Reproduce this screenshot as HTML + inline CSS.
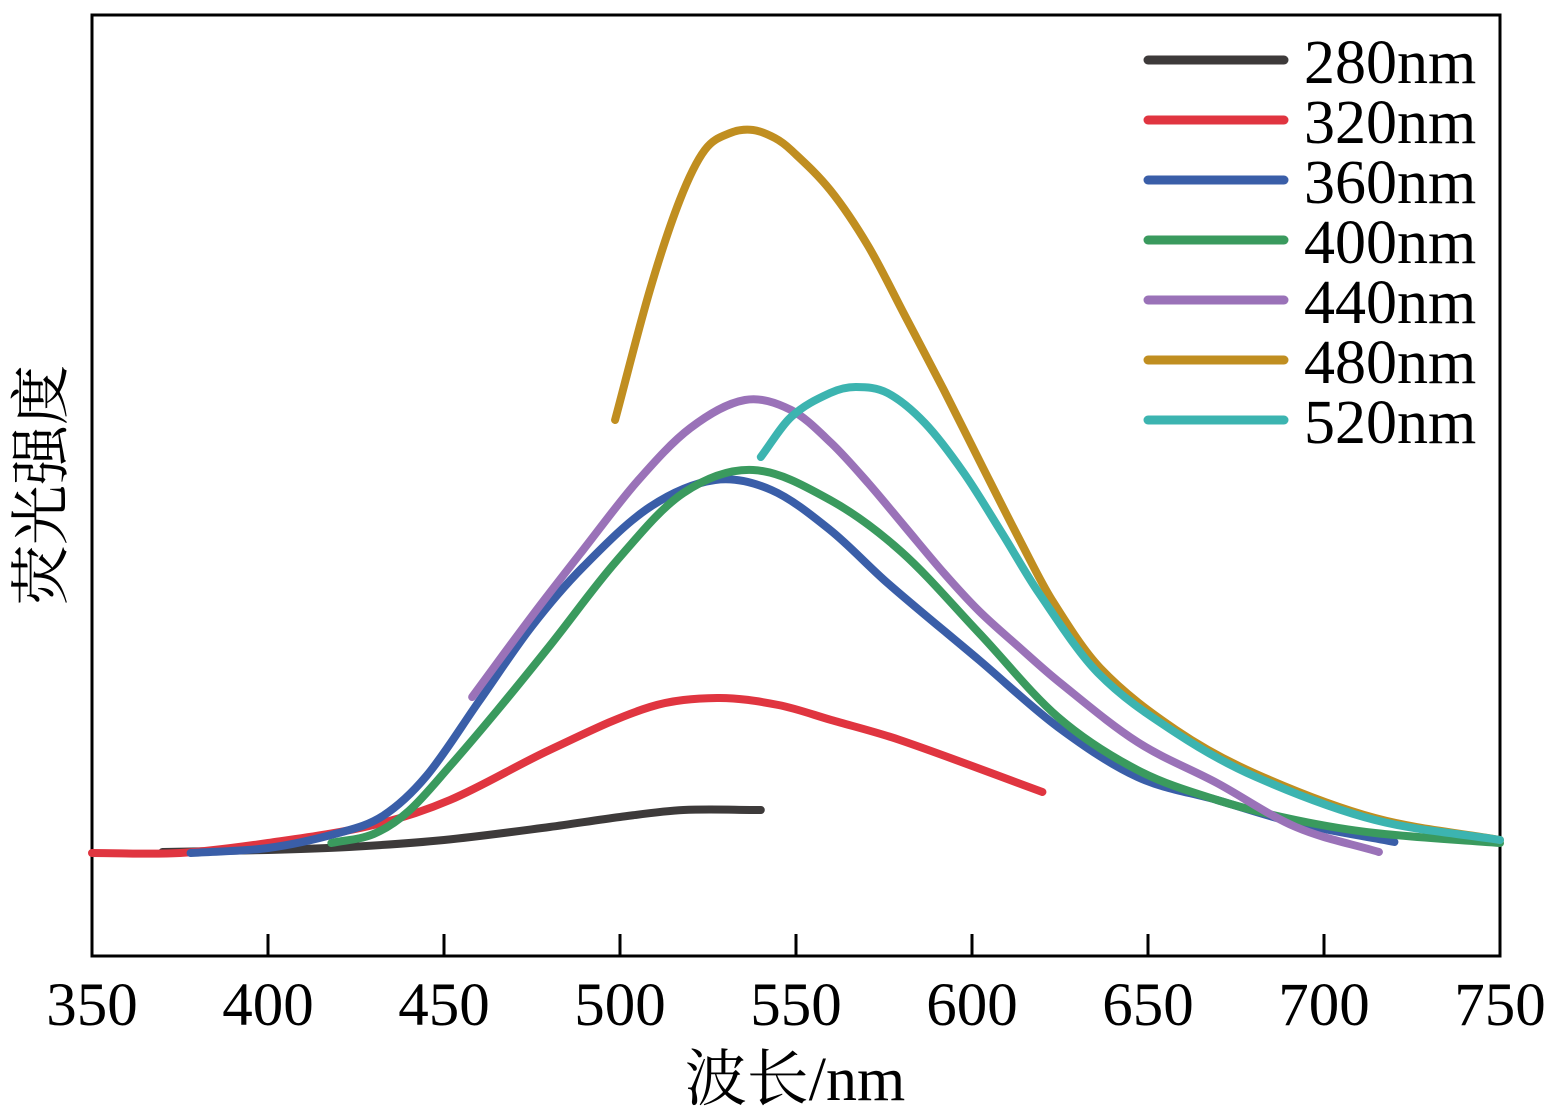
<!DOCTYPE html>
<html><head><meta charset="utf-8"><style>
body{margin:0;background:#fff;}
svg{display:block;font-family:"Liberation Serif","Noto Serif CJK SC",serif;}
</style></head><body>
<svg id="chart" width="1562" height="1115">
<rect x="92" y="15" width="1408" height="941" fill="none" stroke="#000" stroke-width="3"/>
<g id="ticks"></g><g id="series"></g><g id="legend"></g>
<text x="795" y="1100" font-size="62" text-anchor="middle">波长/nm</text>
<text transform="translate(62,485) rotate(-90)" font-size="60" text-anchor="middle" font-family="'Noto Serif CJK SC',serif">荧光强度</text>
</svg>
<script>
const xTicks=[350,400,450,500,550,600,650,700,750];
const seriesNames=["280nm","320nm","360nm","400nm","440nm","480nm","520nm"];
const seriesColors=["#3d3a3a","#e03540","#3a5ea8","#3a9a5e","#9a72b8","#c08e20","#3cb4b0"];
const wl280=[370,400,423,450,480,500,518,540];
const in280=[104,106,109,116,129,139,146,146];
const wl320=[350,375,400,430,451.7,480,508.5,527.6,545,560,579.5,620];
const in320=[103,103,113,131,156,206,249,258,251,236,216,164];
const wl360=[378,400,420,432.6,445,460,475,489.5,508.5,527,543,559.7,576,602,624.4,647,669.6,692,720];
const in360=[103,108,123,140,180,255,330,389,449,476,466,426,373,296,229,179,156,133,114];
const wl400=[418,430,440,451.7,465,480,499,518,537.8,559.7,580,602,624.4,647,669.6,692,714.5,750];
const in400=[113,122,145,190,245,310,395,463,486,456,404,323,239,186,156,136,123,113];
const wl440=[458,475,489.5,505,520,535.5,548.6,560,570.5,581,592,602,613,624.4,647,669.6,692,715.6];
const in440=[259,340,406,475,528,556,546,513,473,429,383,345,310,275,214,173,129,104];
const wl480=[498.6,508.5,517,524.1,531.3,537.8,544,548.6,559.7,570.5,581,592,603,614,622.7,636.4,658,680.7,714.5,750];
const in480=[536,666,756,806,823,826,818,806,766,710,640,566,489,413,356,288,226,182,138,116];
const wl520=[540,548.6,559.7,567,576,586.6,597.7,608.5,619,635.8,658,680.7,714.5,750];
const in520=[499,539,563,569,563,533,483,423,363,283,223,179,136,116];
const allWl=[wl280,wl320,wl360,wl400,wl440,wl480,wl520];
const allIn=[in280,in320,in360,in400,in440,in480,in520];
const NS="http://www.w3.org/2000/svg";
const X0=92,X1=1500,Y0=956,Y1=15;
const xs=v=>X0+(v-350)/(750-350)*(X1-X0);
const ys=v=>Y0-(v/941)*(Y0-Y1);
const tg=document.getElementById('ticks');
xTicks.forEach(t=>{
 const l=document.createElementNS(NS,'line');
 l.setAttribute('x1',xs(t));l.setAttribute('x2',xs(t));l.setAttribute('y1',Y0);l.setAttribute('y2',Y0-22);
 l.setAttribute('stroke','#000');l.setAttribute('stroke-width','3');
 
 
 tg.appendChild(l);
 const tx=document.createElementNS(NS,'text');
 tx.setAttribute('x',xs(t));tx.setAttribute('y',1025);tx.setAttribute('font-size','61');tx.setAttribute('text-anchor','middle');
 tx.textContent=t;
 
 
 tg.appendChild(tx);
});
function smooth(p){
 const n=p.length,m=[];
 for(let i=0;i<n;i++){
  const a=p[Math.max(0,i-1)],c=p[Math.min(n-1,i+1)];
  m.push((c[1]-a[1])/(c[0]-a[0]));
 }
 let d='M'+p[0][0]+','+p[0][1];
 for(let i=0;i<n-1;i++){
  const b=p[i],c=p[i+1],dx=(c[0]-b[0])/3;
  d+=' C'+(b[0]+dx)+','+(b[1]+m[i]*dx)+' '+(c[0]-dx)+','+(c[1]-m[i+1]*dx)+' '+c[0]+','+c[1];
 }
 return d;
}
const sg=document.getElementById('series');
allWl.forEach((wl,k)=>{
 const pts=wl.map((w,i)=>[xs(w),ys(allIn[k][i])]);
 const p=document.createElementNS(NS,'path');
 p.setAttribute('d',smooth(pts));p.setAttribute('fill','none');p.setAttribute('stroke',seriesColors[k]);
 p.setAttribute('stroke-width','8');p.setAttribute('stroke-linecap','round');p.setAttribute('stroke-linejoin','round');
 
 
 sg.appendChild(p);
});
const lg=document.getElementById('legend');
seriesNames.forEach((n,k)=>{
 const y=60+k*60;
 const l=document.createElementNS(NS,'line');
 l.setAttribute('x1',1148);l.setAttribute('x2',1284);l.setAttribute('y1',y);l.setAttribute('y2',y);
 l.setAttribute('stroke',seriesColors[k]);l.setAttribute('stroke-width','9');l.setAttribute('stroke-linecap','round');
 
 
 lg.appendChild(l);
 const t=document.createElementNS(NS,'text');
 t.setAttribute('x',1304);t.setAttribute('y',y+23);t.setAttribute('font-size','62');
 t.textContent=n;
 
 
 lg.appendChild(t);
});
</script>
</body></html>
